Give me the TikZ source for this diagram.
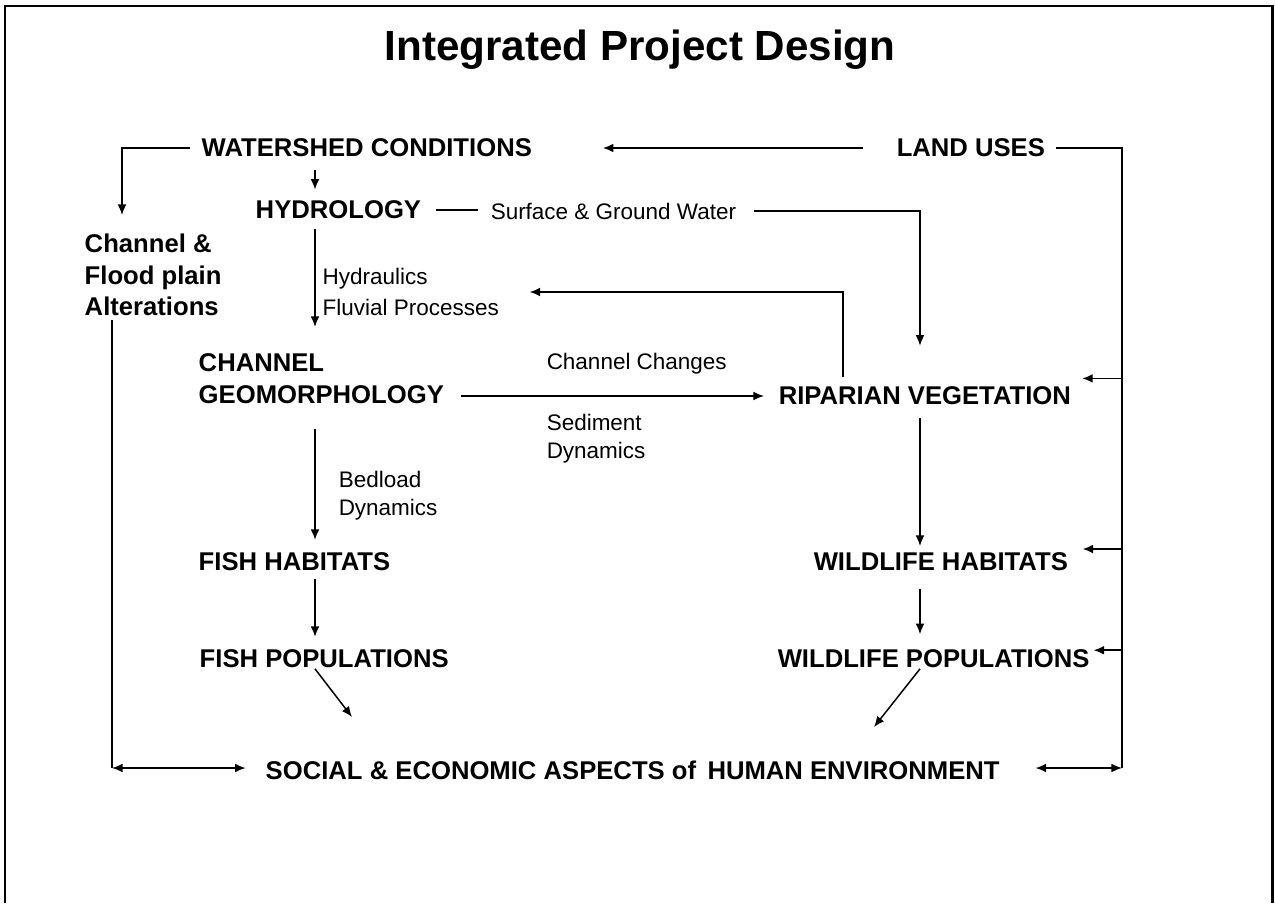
\documentclass[tikz,border=0pt]{standalone}
\usepackage{fontspec}
\setmainfont{Liberation Sans}
\usepackage{tikz}
\usetikzlibrary{arrows.meta,calc}

\begin{document}
\begin{tikzpicture}[x=0.02cm,y=-0.02cm,line width=0.85pt,every node/.style={inner sep=0pt,anchor=west,align=left},
lbl/.style={font=\bfseries\fontsize{14.6}{18.1}\selectfont},
note/.style={font=\fontsize{12.8}{15.9}\selectfont},
arr/.style={-{Latex[length=6pt,width=5pt]}},
both/.style={{Latex[length=6pt,width=5pt]}-{Latex[length=6pt,width=5pt]}}]

\useasboundingbox (0,0) rectangle (1275,903);

\draw [line width=1.7pt] (5,903) -- (5,6) -- (1272,6) -- (1272,903);

\node [anchor=base,font=\bfseries\fontsize{24}{28}\selectfont] (title) at (640,60) {Integrated Project Design};

\node [lbl] (ws) at (201,148) {WATERSHED CONDITIONS};
\node [lbl] (land) at (896,148) {LAND USES};
\node [lbl] (hyd) at (255,210) {HYDROLOGY};
\node [note] (sgw) at (490,211) {Surface \& Ground Water};
\node [lbl] (alt) at (84,275) {Channel \&\\Flood plain\\Alterations};
\node [note] (hyf) at (322,292) {Hydraulics\\[2pt]Fluvial Processes};
\node [lbl] (geo) at (198,379) {CHANNEL\\GEOMORPHOLOGY};
\node [note] (cc) at (546,364) {Channel Changes};
\node [lbl] (rip) at (778,396) {RIPARIAN VEGETATION};
\node [note] (sed) at (546,439) {Sediment\\Dynamics};
\node [note] (bed) at (338,496) {Bedload\\Dynamics};
\node [lbl] (fh) at (198,562) {FISH HABITATS};
\node [lbl] (wh) at (813,562) {WILDLIFE HABITATS};
\node [lbl] (fp) at (199,659) {FISH POPULATIONS};
\node [lbl] (wp) at (777,659) {WILDLIFE POPULATIONS};
\node [lbl] (soc) at (265,770) {SOCIAL \& ECONOMIC ASPECTS of\, HUMAN ENVIRONMENT};

\coordinate (cl) at (315,0);
\coordinate (cr) at (920,0);
\coordinate (rx) at (843,0);
\coordinate (alttop) at (122,215);
\coordinate (lb) at (112,768);
\coordinate (rb) at (1122,768);
\coordinate (ftip) at (352,717);
\coordinate (wtip) at (874,727);

\draw [arr,shorten <=6pt] (ws.west) -| (alttop);

\draw [arr,shorten <=7pt,shorten >=6pt] (ws.south -| cl) -- (hyd.north -| cl);

\draw [arr,shorten <=19pt,shorten >=40pt] (land.west) -- (ws.east);

\draw [shorten <=6pt] (land.east) -| (rb);

\draw [both,shorten <=20pt] (rb -| soc.east) -- (rb);

\draw [arr] ([yshift=10pt]rip.east -| rb) -- ([xshift=6pt,yshift=10pt]rip.east);

\draw [arr] ([yshift=7.4pt]wh.east -| rb) -- ([xshift=8pt,yshift=7.4pt]wh.east);

\draw [arr] ([yshift=5pt]wp.east -| rb) -- ([xshift=2pt,yshift=5pt]wp.east);

\draw [shorten <=8pt,shorten >=7pt] (hyd.east) -- (hyd.east -| sgw.west);

\draw [arr,shorten <=10pt,shorten >=23pt] (sgw.east) -| (rip.north -| cr);

\draw [arr,shorten <=5pt,shorten >=15pt] (hyd.south -| cl) -- (geo.north -| cl);

\draw [arr,shorten <=5pt,shorten >=17pt] (rip.north -| rx) |- (hyf.east);

\draw [arr,shorten <=9.6pt,shorten >=8pt] (geo.east |- rip.west) -- (rip.west);

\draw [arr,shorten <=13.6pt,shorten >=7pt] (geo.south -| cl) -- (fh.north -| cl);

\draw [arr,shorten <=4pt,shorten >=7pt] (fh.south -| cl) -- (fp.north -| cl);

\draw [arr,shorten <=7pt,shorten >=3.5pt] (rip.south -| cr) -- (wh.north -| cr);

\draw [arr,shorten <=10pt,shorten >=8.5pt] (wh.south -| cr) -- (wp.north -| cr);

\draw [arr] (fp.south -| cl) -- (ftip);

\draw [arr] (wp.south -| cr) -- (wtip);

\draw [shorten <=2pt] (alt.south -| lb) -- (lb);

\draw [both,shorten >=11pt] (lb) -- (lb -| soc.west);

\end{tikzpicture}
\end{document}
